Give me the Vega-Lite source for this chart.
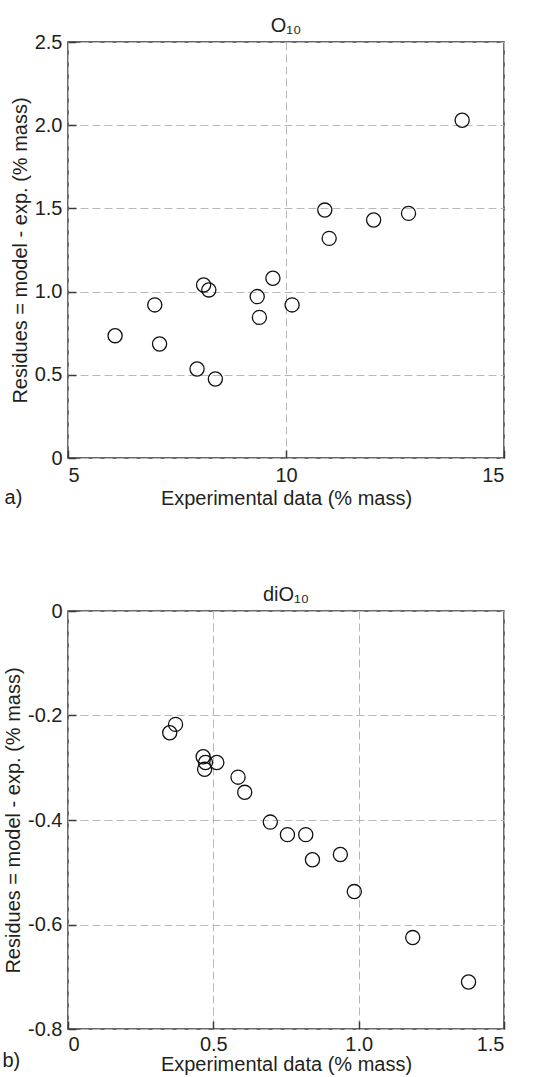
{
  "$schema": "https://vega.github.io/schema/vega-lite/v6.json",
  "padding": {"left": 1, "top": 15, "right": 5, "bottom": 0},
  "background": "white",
  "spacing": 75,
  "config": {
    "font": "Liberation Sans",
    "view": {"stroke": "#3a3a3a", "strokeWidth": 1.5},
    "axis": {
      "domain": false,
      "grid": true,
      "gridColor": "#b8b8b8",
      "gridDash": [8, 4],
      "gridWidth": 1,
      "ticks": true,
      "tickSize": -8,
      "tickColor": "#3a3a3a",
      "tickWidth": 1.5,
      "labelFontSize": 20,
      "labelColor": "#231f20",
      "labelPadding": 15,
      "titleFontSize": 20,
      "titleFontWeight": "normal",
      "titleColor": "#231f20"
    },
    "axisX": {"titlePadding": 3},
    "axisY": {"titlePadding": 4, "labelPadding": 14},
    "title": {"fontSize": 20, "fontWeight": "normal", "color": "#231f20", "offset": -4}
  },
  "datasets": {
    "o10": [
      {"exp": 14.04, "res": 2.03},
      {"exp": 10.89, "res": 1.49},
      {"exp": 12.01, "res": 1.43},
      {"exp": 12.81, "res": 1.47},
      {"exp": 10.99, "res": 1.32},
      {"exp": 9.70, "res": 1.08},
      {"exp": 8.11, "res": 1.04},
      {"exp": 8.23, "res": 1.01},
      {"exp": 9.34, "res": 0.97},
      {"exp": 10.14, "res": 0.92},
      {"exp": 6.99, "res": 0.92},
      {"exp": 9.39, "res": 0.845},
      {"exp": 6.08, "res": 0.735},
      {"exp": 7.10, "res": 0.685},
      {"exp": 7.96, "res": 0.535},
      {"exp": 8.38, "res": 0.475}
    ],
    "dio10": [
      {"exp": 0.370, "res": -0.217},
      {"exp": 0.350, "res": -0.233},
      {"exp": 0.465, "res": -0.279},
      {"exp": 0.473, "res": -0.290},
      {"exp": 0.470, "res": -0.303},
      {"exp": 0.512, "res": -0.290},
      {"exp": 0.585, "res": -0.318},
      {"exp": 0.608, "res": -0.347},
      {"exp": 0.696, "res": -0.404},
      {"exp": 0.755, "res": -0.428},
      {"exp": 0.818, "res": -0.428},
      {"exp": 0.841, "res": -0.476},
      {"exp": 0.937, "res": -0.466},
      {"exp": 0.985, "res": -0.537},
      {"exp": 1.186, "res": -0.625},
      {"exp": 1.378, "res": -0.710}
    ],
    "labA": [{"label": "a)"}],
    "labB": [{"label": "b)"}]
  },
  "vconcat": [
    {
      "width": 436,
      "height": 416,
      "title": {"text": "O₁₀"},
      "layer": [
        {
          "data": {"name": "o10"},
          "mark": {"type": "point", "shape": "circle", "filled": false, "stroke": "#111111", "strokeWidth": 1.3, "size": 200, "opacity": 1},
          "encoding": {
            "x": {"field": "exp", "type": "quantitative", "title": "Experimental data (% mass)",
                  "scale": {"domain": [5, 15], "nice": false, "zero": false},
                  "axis": {"values": [5, 10, 15]}},
            "y": {"field": "res", "type": "quantitative", "title": "Residues = model - exp. (% mass)",
                  "scale": {"domain": [0, 2.5], "nice": false},
                  "axis": {"values": [0, 0.5, 1, 1.5, 2, 2.5],
                           "labelExpr": "datum.value == 0 ? '0' : format(datum.value, '.1f')"}}
          }
        },
        {
          "data": {"name": "labA"},
          "mark": {"type": "text", "fontSize": 20, "color": "#231f20", "align": "center", "baseline": "middle"},
          "encoding": {
            "x": {"datum": 3.75, "type": "quantitative"},
            "y": {"datum": -0.24, "type": "quantitative"},
            "text": {"field": "label"}
          }
        }
      ]
    },
    {
      "width": 436,
      "height": 418,
      "title": {"text": "diO₁₀"},
      "layer": [
        {
          "data": {"name": "dio10"},
          "mark": {"type": "point", "shape": "circle", "filled": false, "stroke": "#111111", "strokeWidth": 1.3, "size": 200, "opacity": 1},
          "encoding": {
            "x": {"field": "exp", "type": "quantitative", "title": "Experimental data (% mass)",
                  "scale": {"domain": [0, 1.5], "nice": false},
                  "axis": {"values": [0, 0.5, 1, 1.5], "titlePadding": 0, "labelPadding": 13,
                           "labelExpr": "datum.value == 0 ? '0' : format(datum.value, '.1f')"}},
            "y": {"field": "res", "type": "quantitative", "title": "Residues = model - exp. (% mass)",
                  "scale": {"domain": [-0.8, 0], "nice": false, "zero": false},
                  "axis": {"values": [-0.8, -0.6, -0.4, -0.2, 0],
                           "labelExpr": "datum.value == 0 ? '0' : (datum.value < 0 ? '-' : '') + format(abs(datum.value), '.1f')"}}
          }
        },
        {
          "data": {"name": "labB"},
          "mark": {"type": "text", "fontSize": 20, "color": "#231f20", "align": "center", "baseline": "middle"},
          "encoding": {
            "x": {"datum": -0.195, "type": "quantitative"},
            "y": {"datum": -0.862, "type": "quantitative"},
            "text": {"field": "label"}
          }
        }
      ]
    }
  ]
}
